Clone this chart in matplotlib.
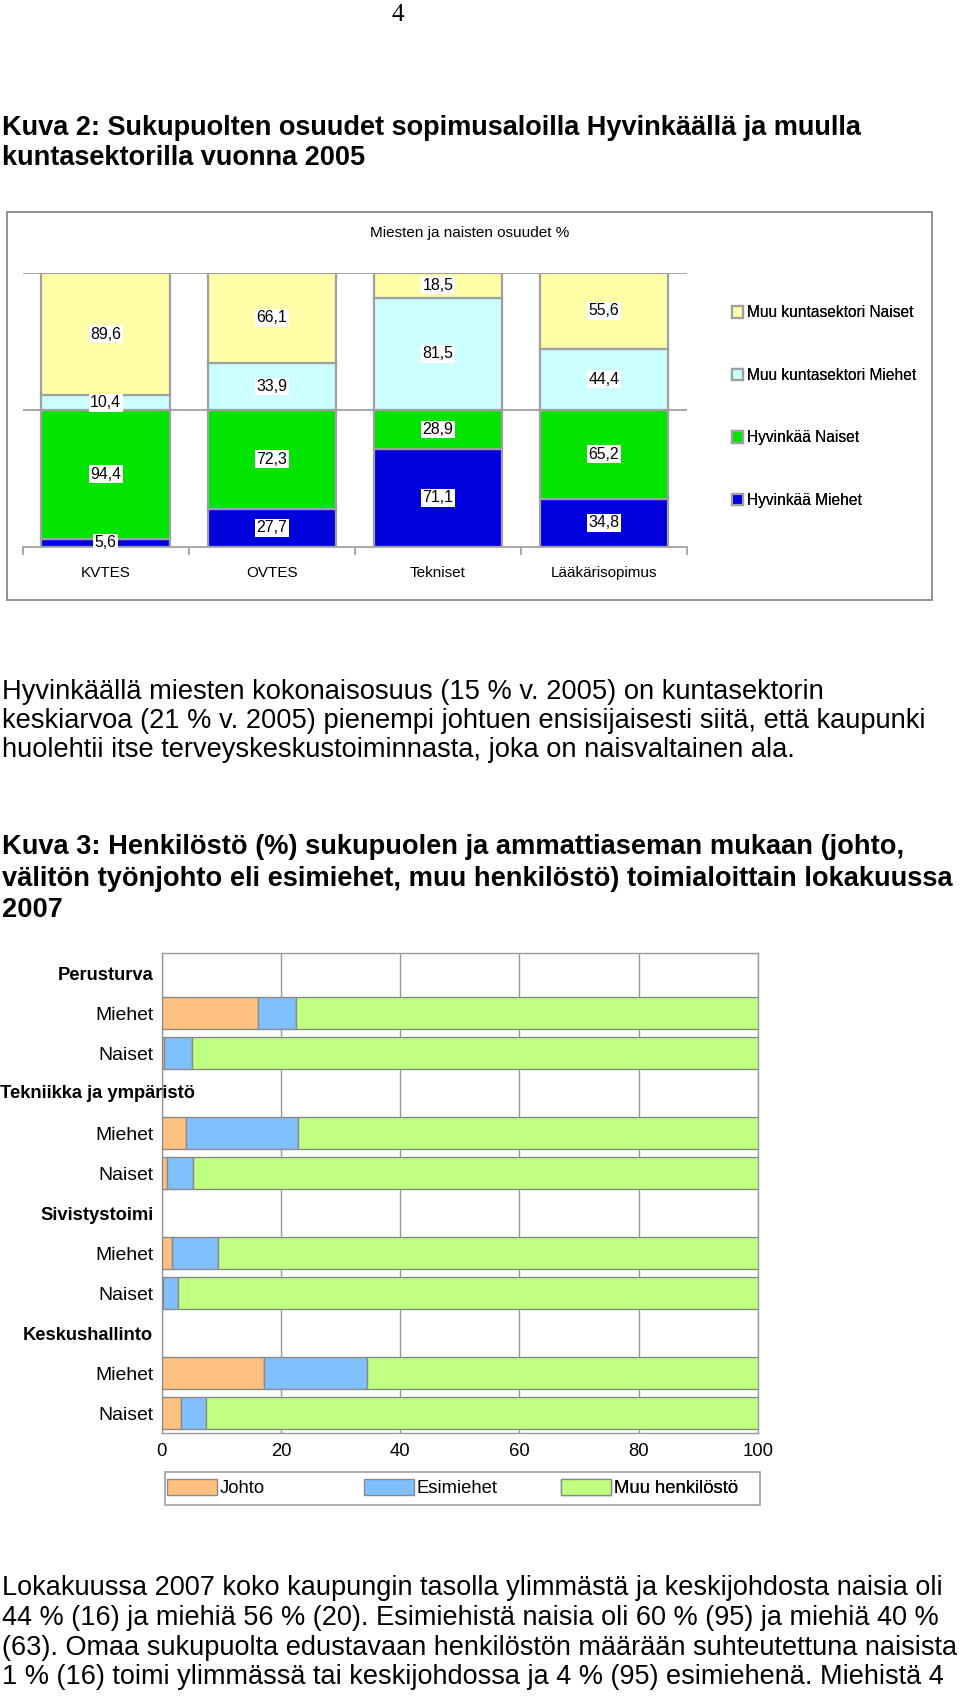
import matplotlib
matplotlib.use('Agg')
import matplotlib.pyplot as plt
import numpy as np
from matplotlib.patches import Rectangle, Patch

# ---------------- data ----------------
contracts = ['KVTES', 'OVTES', 'Tekniset', 'Lääkärisopimus']
hyv_miehet = [5.6, 27.7, 71.1, 34.8]
hyv_naiset = [94.4, 72.3, 28.9, 65.2]
muu_miehet = [10.4, 33.9, 81.5, 44.4]
muu_naiset = [89.6, 66.1, 18.5, 55.6]
labels1 = ['Hyvinkää Miehet', 'Hyvinkää Naiset', 'Muu kuntasektori Miehet', 'Muu kuntasektori Naiset']

groups = ['Perusturva', 'Tekniikka ja ympäristö', 'Sivistystoimi', 'Keskushallinto']
genders = ['Miehet', 'Naiset']
# order: Perusturva M, N, Tekniikka M, N, Sivistystoimi M, N, Keskushallinto M, N
johto = [16.1, 0.4, 4.0, 0.9, 1.8, 0.2, 17.2, 3.2]
esimiehet = [6.5, 4.6, 18.8, 4.3, 7.7, 2.5, 17.2, 4.2]
muu_henk = [77.4, 95.0, 77.2, 94.8, 90.5, 97.3, 65.6, 92.6]
series2 = ['Johto', 'Esimiehet', 'Muu henkilöstö']
xticks2 = [0, 20, 40, 60, 80, 100]

title2 = ['Kuva 2: Sukupuolten osuudet sopimusaloilla Hyvinkäällä ja muulla',
          'kuntasektorilla vuonna 2005']
para1 = ['Hyvinkäällä miesten kokonaisosuus (15 % v. 2005) on kuntasektorin',
         'keskiarvoa (21 % v. 2005) pienempi johtuen ensisijaisesti siitä, että kaupunki',
         'huolehtii itse terveyskeskustoiminnasta, joka on naisvaltainen ala.']
title3 = ['Kuva 3: Henkilöstö (%) sukupuolen ja ammattiaseman mukaan (johto,',
          'välitön työnjohto eli esimiehet, muu henkilöstö) toimialoittain lokakuussa',
          '2007']
para2 = ['Lokakuussa 2007 koko kaupungin tasolla ylimmästä ja keskijohdosta naisia oli',
         '44 % (16) ja miehiä 56 % (20). Esimiehistä naisia oli 60 % (95) ja miehiä 40 %',
         '(63). Omaa sukupuolta edustavaan henkilöstön määrään suhteutettuna naisista',
         '1 % (16) toimi ylimmässä tai keskijohdossa ja 4 % (95) esimiehenä. Miehistä 4']

# ---------------- setup ----------------
W, H = 960, 1697
fig = plt.figure(figsize=(W / 100, H / 100), dpi=100)
fig.patch.set_facecolor('white')
renderer = fig.canvas.get_renderer()

SANS = ['Liberation Sans', 'DejaVu Sans']
NARROW = ['Liberation Sans Narrow', 'Liberation Sans', 'DejaVu Sans']
SERIF = ['Liberation Serif', 'DejaVu Serif']
GRID = '#999999'
NARROW_BOOST = 1.07


def fx(x):
    return x / W


def fy(y):
    return 1 - y / H


def fit(s, target, family=SANS, weight='normal'):
    t = fig.text(0, 0, s, fontsize=20, family=family, fontweight=weight)
    w = t.get_window_extent(renderer).width
    t.remove()
    size = 20 * target / w
    if family is NARROW:
        size *= NARROW_BOOST
    return size


def lines(txts, x, ys, size, family=SANS, weight='normal'):
    for s, y in zip(txts, ys):
        fig.text(fx(x), fy(y), s, fontsize=size, family=family, fontweight=weight,
                 ha='left', va='center', color='black')


# page number
fig.text(fx(398), fy(15), '4', fontsize=18, family=SERIF, ha='center', va='center')

# headings / paragraphs
fs_t2 = fit(title2[0], 861, SANS, 'bold')
lines(title2, 2, [128, 158], fs_t2, SANS, 'bold')
fs_p1 = fit(para1[1], 920, SANS)
lines(para1, 2, [692, 721, 750], fs_p1, SANS)
fs_t3 = fit(title3[1], 950, SANS, 'bold')
lines(title3, 2, [847, 879, 910], fs_t3, SANS, 'bold')
fs_p2 = fit(para2[0], 940, SANS)
lines(para2, 2, [1588, 1618, 1648, 1677], fs_p2, SANS)

# ---------------- chart 1 ----------------
fig.patches.append(Rectangle((fx(7.3), fy(600)), fx(932 - 7.3), (600 - 211.7) / H,
                             transform=fig.transFigure, fill=False,
                             edgecolor='#888888', lw=1.3))
fs_c1t = fit('Miesten ja naisten osuudet %', 186, NARROW)
fig.text(fx(470), fy(233), 'Miesten ja naisten osuudet %', fontsize=fs_c1t,
         family=NARROW, ha='center', va='center')

ax1 = fig.add_axes([fx(22.7), fy(546.7), (687 - 22.7) / W, (546.7 - 272.7) / H])
x = np.arange(len(contracts))
colors1 = ['#0000DC', '#00E400', '#CCFFFF', '#FFFFA8']
hm = np.array(hyv_miehet)
hn = np.array(hyv_naiset)
mm = np.array(muu_miehet)
mn = np.array(muu_naiset)
stacks = [(hm, 0 * hm), (hn, hm), (mm, hm + hn), (mn, hm + hn + mm)]
bw = 0.774
fs_lab1 = fit('89,6', 29, NARROW)
handles1 = []
for (vals, bottom), col, lab in zip(stacks, colors1, labels1):
    b = ax1.bar(x, vals, bw, bottom=bottom, color=col, edgecolor='#A0A0A0',
                lw=1.6, zorder=3, label=lab)
    handles1.append(b)
    for xi, v, bt in zip(x, vals, bottom):
        ax1.text(xi, bt + v / 2, f'{v:.1f}'.replace('.', ','), ha='center', va='center',
                 fontsize=fs_lab1, family=NARROW, zorder=5,
                 bbox=dict(facecolor='white', edgecolor='none', pad=1.0))

ax1.set_xlim(-0.5, len(contracts) - 0.5)
ax1.set_ylim(0, 200)
ax1.set_yticks([])
ax1.axhline(100, color=GRID, lw=1.2, zorder=1)
ax1.axhline(200, color=GRID, lw=1.2, zorder=1)
for sp in ['left', 'right', 'top']:
    ax1.spines[sp].set_visible(False)
ax1.spines['bottom'].set_color(GRID)
ax1.spines['bottom'].set_linewidth(1.2)
ax1.set_xticks(x)
fs_cat = fit('Lääkärisopimus', 100, NARROW)
ax1.set_xticklabels(contracts, fontsize=fs_cat, family=NARROW)
ax1.tick_params(axis='x', which='major', length=0, pad=14)
ax1.set_xticks(np.arange(-0.5, len(contracts)), minor=True)
ax1.tick_params(axis='x', which='minor', length=6, color=GRID, width=1.2)
ax1.patch.set_alpha(0)

fs_leg1 = fit('Muu kuntasektori Miehet', 158, NARROW)
px1 = fs_leg1 * 100 / 72
leg1 = ax1.legend(handles1[::-1], labels1[::-1], loc='center left',
                  bbox_to_anchor=(fx(732), fy(406.5)), bbox_transform=fig.transFigure,
                  frameon=False, borderpad=0, borderaxespad=0,
                  prop={'family': NARROW, 'size': fs_leg1},
                  handlelength=11 / px1, handleheight=12 / px1,
                  handletextpad=4 / px1, labelspacing=(65.7 - 1.17 * px1) / px1)

# ---------------- chart 2 ----------------
ax2 = fig.add_axes([fx(161.7), fy(1433), (758 - 161.7) / W, (1433 - 953) / H])
positions = []
header_pos = []
for g, name in enumerate(groups):
    header_pos.append(3 * g)
    positions += [3 * g + 1, 3 * g + 2]
ypos = np.array(positions)
colors2 = ['#FFC080', '#80C0FF', '#C0FF80']
jo = np.array(johto)
es = np.array(esimiehet)
mu = np.array(muu_henk)
handles2 = []
for vals, left, col, lab in [(jo, 0 * jo, colors2[0], series2[0]),
                             (es, jo, colors2[1], series2[1]),
                             (mu, jo + es, colors2[2], series2[2])]:
    b = ax2.barh(ypos, vals, 0.8, left=left, color=col, edgecolor='#8A8A8A',
                 lw=1.0, zorder=3, label=lab)
    handles2.append(b)

ax2.set_xlim(0, 100)
ax2.set_ylim(11.5, -0.5)
ax2.set_xticks(xticks2)
fs_tick2 = fit('100', 29, NARROW)
ax2.set_xticklabels([str(t) for t in xticks2], fontsize=fs_tick2, family=NARROW)
ax2.tick_params(axis='x', length=0, pad=7)
ax2.grid(axis='x', color=GRID, lw=1.0, zorder=0)
for sp in ax2.spines.values():
    sp.set_color(GRID)
    sp.set_linewidth(1.0)

all_pos = list(range(12))
all_labels = []
for g, name in enumerate(groups):
    all_labels += [name if name != 'Tekniikka ja ympäristö' else '', genders[0], genders[1]]
ax2.set_yticks(all_pos)
fs_row = fit('Miehet', 54, NARROW)
fs_head = fit('Tekniikka ja ympäristö', 195, NARROW, 'bold') / NARROW_BOOST * 1.0
ax2.set_yticklabels(all_labels, fontsize=fs_row, family=NARROW)
for i, t in enumerate(ax2.get_yticklabels()):
    if i in header_pos:
        t.set_fontweight('bold')
        t.set_fontsize(fs_head)
ax2.tick_params(axis='y', length=0, pad=6)
# long header that overflows the label column in the original
fig.text(fx(0), fy(1093), 'Tekniikka ja ympäristö', fontsize=fs_head, family=NARROW,
         fontweight='bold', ha='left', va='center')

# legend 2
fig.patches.append(Rectangle((fx(165), fy(1505)), fx(760 - 165), (1505 - 1472) / H,
                             transform=fig.transFigure, fill=False,
                             edgecolor='#A0A0A0', lw=1.2))
fs_leg2 = fit('Muu henkilöstö', 116, NARROW)
px2 = fs_leg2 * 100 / 72
for h, lab, xl in zip(handles2, series2, [167, 364, 561]):
    lg = ax2.legend([h], [lab], loc='center left', bbox_to_anchor=(fx(xl), fy(1488)),
                    bbox_transform=fig.transFigure, frameon=False, borderpad=0,
                    borderaxespad=0, prop={'family': NARROW, 'size': fs_leg2},
                    handlelength=50 / px2, handleheight=18 / px2,
                    handletextpad=3 / px2)
    ax2.add_artist(lg)
ax1.add_artist(leg1)

fig.savefig('out.png', dpi=100, facecolor='white')
